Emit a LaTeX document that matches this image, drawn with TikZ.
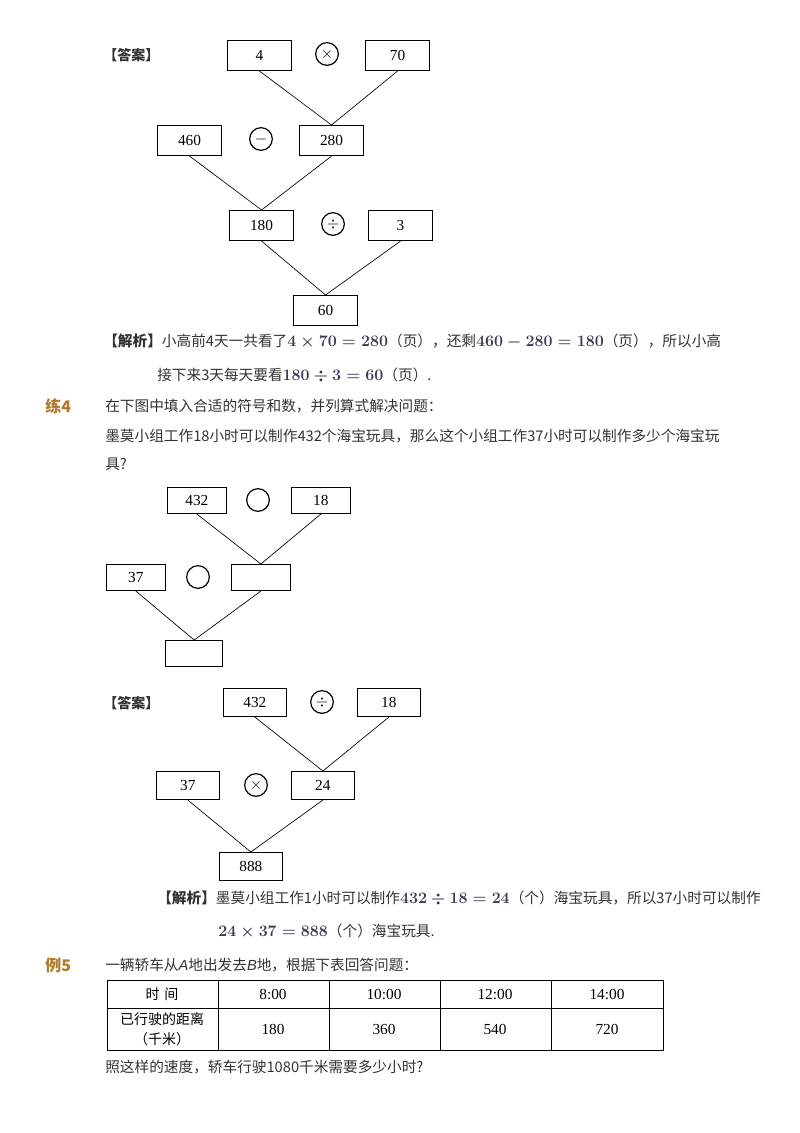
\documentclass[tikz,border=0pt]{standalone}
\usepackage{fontspec}
\setmainfont{Noto Sans CJK SC}
\newfontfamily\numf{Liberation Serif}
\newfontfamily\itf{Liberation Sans}
\definecolor{txt}{HTML}{333333}
\definecolor{mth}{HTML}{3A3A55}
\definecolor{lab}{HTML}{B07A2A}
\newcommand{\mm}[1]{\textcolor{mth}{\boldmath\fontsize{12.5}{13}\selectfont$#1$}}
\begin{document}
\begin{tikzpicture}[x=0.75pt,y=-0.75pt,
  bx/.style={draw,line width=0.8pt,minimum width=#1,anchor=north west,inner sep=0pt,font=\numf\fontsize{11.5}{12}\selectfont},
  op/.style={draw,circle,line width=0.9pt,minimum size=17pt,inner sep=0pt,font=\fontsize{12}{12}\selectfont},
  ln/.style={line width=0.5pt},
  tx/.style={anchor=west,inner sep=0pt,text=txt,font=\fontsize{11}{12}\selectfont},
  hd/.style={anchor=west,inner sep=0pt,text=lab,font=\bfseries\fontsize{12}{13}\selectfont},
  cell/.style={anchor=center,inner sep=0pt,font=\numf\fontsize{11.5}{12}\selectfont}]
\useasboundingbox (0,0) rectangle (800,1133);
% ---------- diagram 1
\node[tx,font=\bfseries\fontsize{10.5}{12}\selectfont] (ans1) at (103,55) {【答案】};
\node[bx=48pt,minimum height=22.5pt] (a4) at (227,40) {4};
\node[op] (o1) at (327,54) {$\times$};
\node[bx=48pt,minimum height=22.5pt] (a70) at (365,40) {70};
\node[bx=48pt,minimum height=22.5pt] (a460) at (157,125) {460};
\node[op] (o2) at (261,139) {$-$};
\node[bx=48pt,minimum height=22.5pt] (a280) at (299,125) {280};
\node[bx=48pt,minimum height=22.5pt] (a180) at (229,210) {180};
\node[op] (o3) at (333,224) {$\div$};
\node[bx=48pt,minimum height=22.5pt] (a3) at (368,210) {3};
\node[bx=48pt,minimum height=22.5pt] (a60) at (293,295) {60};
\draw[ln] (a4.south) -- (a280.north);
\draw[ln] (a70.south) -- (a280.north);
\draw[ln] (a460.south) -- (a180.north);
\draw[ln] (a280.south) -- (a180.north);
\draw[ln] (a180.south) -- (a60.north);
\draw[ln] (a3.south) -- (a60.north);
\node[tx] (jx1) at (103,341) {\textbf{【解析】}小高前4天一共看了\mm{4\times70=280}（页），还剩\mm{460-280=180}（页），所以小高};
\node[tx] (jx1b) at (157,375) {接下来3天每天要看\mm{180\div3=60}（页）.};
% ---------- 练4
\node[hd] (l4) at (45,406) {练4};
\node[tx] (q1) at (105,406) {在下图中填入合适的符号和数，并列算式解决问题：};
\node[tx] (q2) at (105,436) {墨莫小组工作18小时可以制作432个海宝玩具，那么这个小组工作37小时可以制作多少个海宝玩};
\node[tx] (q3) at (105,464) {具?};
\node[bx=44pt,minimum height=19.5pt] (b432) at (167,487) {432};
\node[op] (p1) at (258,500) {};
\node[bx=44pt,minimum height=19.5pt] (b18) at (291,487) {18};
\node[bx=44pt,minimum height=19.5pt] (b37) at (106,564) {37};
\node[op] (p2) at (198,577) {};
\node[bx=44pt,minimum height=19.5pt] (bm) at (231,564) {};
\node[bx=43pt,minimum height=19.5pt] (bb) at (165,640) {};
\draw[ln] (b432.south) -- (bm.north);
\draw[ln] (b18.south) -- (bm.north);
\draw[ln] (b37.south) -- (bb.north);
\draw[ln] (bm.south) -- (bb.north);
% ---------- diagram 3
\node[tx,font=\bfseries\fontsize{10.5}{12}\selectfont] (ans2) at (103,703) {【答案】};
\node[bx=47pt,minimum height=21pt] (c432) at (223,688) {432};
\node[op] (r1) at (322,702) {$\div$};
\node[bx=47pt,minimum height=21pt] (c18) at (357,688) {18};
\node[bx=47pt,minimum height=21pt] (c37) at (156,771) {37};
\node[op] (r2) at (256,785) {$\times$};
\node[bx=47pt,minimum height=21pt] (c24) at (291,771) {24};
\node[bx=47pt,minimum height=21pt] (c888) at (219,852) {888};
\draw[ln] (c432.south) -- (c24.north);
\draw[ln] (c18.south) -- (c24.north);
\draw[ln] (c37.south) -- (c888.north);
\draw[ln] (c24.south) -- (c888.north);
\node[tx] (jx2) at (157,898) {\textbf{【解析】}墨莫小组工作1小时可以制作\mm{432\div18=24}（个）海宝玩具，所以37小时可以制作};
\node[tx] (jx2b) at (218,931) {\mm{24\times37=888}（个）海宝玩具.};
% ---------- 例5
\node[hd] (e5) at (45,965) {例5};
\node[tx] (q5) at (105,965) {一辆轿车从{\itf\itshape A}地出发去{\itf\itshape B}地，根据下表回答问题：};
\draw[line width=0.6pt] (107,980) rectangle (663,1050);
\draw[line width=0.6pt] (107,1008) -- (663,1008);
\foreach \xx in {218,329,440,551} \draw[line width=0.6pt] (\xx,980) -- (\xx,1050);
\node[cell,font=\fontsize{10.5}{11}\selectfont] (h0) at (162,994) {时\,\,间};
\node[cell] (h1) at (273,994) {8:00};
\node[cell] (h2) at (384,994) {10:00};
\node[cell] (h3) at (495,994) {12:00};
\node[cell] (h4) at (607,994) {14:00};
\node[cell,align=center,font=\fontsize{10.5}{15}\selectfont] (d0) at (162,1029) {已行驶的距离\\（千米）};
\node[cell] (d1) at (273,1029) {180};
\node[cell] (d2) at (384,1029) {360};
\node[cell] (d3) at (495,1029) {540};
\node[cell] (d4) at (607,1029) {720};
\node[tx] (q6) at (105,1067) {照这样的速度，轿车行驶1080千米需要多少小时?};
\end{tikzpicture}
\end{document}
